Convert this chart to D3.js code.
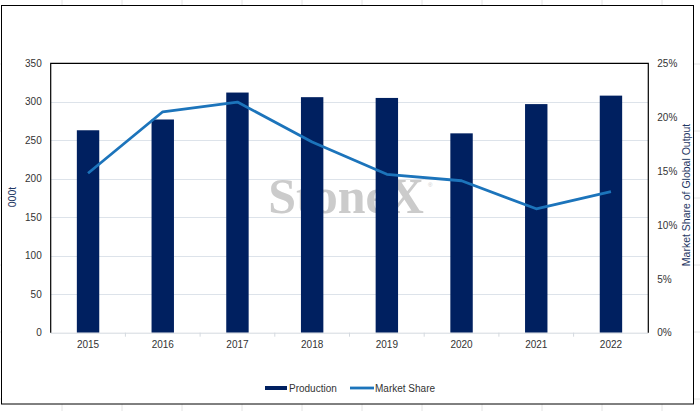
<!DOCTYPE html>
<html>
<head>
<meta charset="utf-8">
<script src="https://cdn.jsdelivr.net/npm/d3@7"></script>
<style>
  body { margin: 0; background: #fff; }
  svg { display: block; font-family: "Liberation Sans", Arial, sans-serif; }
  .axis text { fill: #333; font-size: 10px; }
  .axis .domain { display: none; }
</style>
</head>
<body>
<svg id="chart"></svg>
<script>
// data
const years = ["2015", "2016", "2017", "2018", "2019", "2020", "2021", "2022"];
const production = [263, 277, 312, 306, 305, 259, 297, 308];     // 000t
const marketShare = [14.8, 20.5, 21.4, 17.7, 14.7, 14.1, 11.5, 13.1]; // %
const leftTicks = [0, 50, 100, 150, 200, 250, 300, 350];
const rightTicks = [0, 5, 10, 15, 20, 25];

const W = 700, H = 411;
const plot = { left: 50.7, right: 648.3, top: 63.3, bottom: 332.7 };

const svg = d3.select("#chart").attr("width", W).attr("height", H);

// faint spreadsheet grid behind the chart object
const sheet = svg.append("g").attr("stroke", "#e4e4e4").attr("stroke-width", 1);
d3.range(62, W, 60).forEach(x => {
  sheet.append("line").attr("x1", x).attr("x2", x).attr("y1", 0).attr("y2", H);
});
d3.range(-3, H, 67).forEach(y => {
  sheet.append("line").attr("x1", 0).attr("x2", W).attr("y1", y).attr("y2", y);
});

// chart frame
svg.append("rect")
  .attr("x", 1.5).attr("y", 5.5)
  .attr("width", 692).attr("height", 398.5)
  .attr("fill", "#fff").attr("stroke", "#000").attr("stroke-width", 1);

// scales
const x = d3.scaleBand().domain(years).range([plot.left, plot.right]);
const yL = d3.scaleLinear().domain([0, 350]).range([plot.bottom, plot.top]);
const yR = d3.scaleLinear().domain([0, 25]).range([plot.bottom, plot.top]);

// gridlines
svg.append("g")
  .selectAll("line")
  .data(leftTicks.slice(1, -1))
  .join("line")
    .attr("x1", plot.left).attr("x2", plot.right)
    .attr("y1", d => Math.round(yL(d)) + 0.5).attr("y2", d => Math.round(yL(d)) + 0.5)
    .attr("stroke", "#dde3ea").attr("stroke-width", 1);

// watermark
svg.append("text")
  .attr("x", 346).attr("y", 213)
  .attr("text-anchor", "middle")
  .attr("font-family", "'Liberation Serif', 'DejaVu Serif', serif")
  .attr("font-weight", "bold")
  .attr("font-size", 50)
  .attr("fill", "#cbcbcb")
  .text("StoneX");
svg.append("text")
  .attr("x", 428).attr("y", 187)
  .attr("font-size", 6).attr("fill", "#cbcbcb")
  .text("®");

// bars
const barW = x.bandwidth() * 0.3;
svg.append("g")
  .selectAll("rect")
  .data(years.map((y, i) => ({ year: y, value: production[i] })))
  .join("rect")
    .attr("x", d => x(d.year) + (x.bandwidth() - barW) / 2)
    .attr("y", d => yL(d.value))
    .attr("width", barW)
    .attr("height", d => yL(0) - yL(d.value))
    .attr("fill", "#002060");

// market share line
const line = d3.line()
  .x((d, i) => x(years[i]) + x.bandwidth() / 2)
  .y(d => yR(d));
svg.append("path")
  .datum(marketShare)
  .attr("d", line)
  .attr("fill", "none")
  .attr("stroke", "#1c74bb")
  .attr("stroke-width", 2.8)
  .attr("stroke-linejoin", "round");

// x axis (light grey baseline with ticks between categories)
svg.append("line")
  .attr("x1", plot.left).attr("x2", plot.right)
  .attr("y1", plot.bottom + 0.5).attr("y2", plot.bottom + 0.5)
  .attr("stroke", "#d4d9df");
svg.append("g")
  .selectAll("line")
  .data(years.slice(1))
  .join("line")
    .attr("x1", d => x(d)).attr("x2", d => x(d))
    .attr("y1", plot.bottom).attr("y2", plot.bottom + 4)
    .attr("stroke", "#d4d9df");
svg.append("g")
  .attr("class", "axis")
  .attr("transform", `translate(0,${plot.bottom})`)
  .call(d3.axisBottom(x).tickSize(0).tickPadding(8));

// left / right axes
svg.append("g")
  .attr("class", "axis")
  .attr("transform", `translate(${plot.left},0)`)
  .call(d3.axisLeft(yL).tickValues(leftTicks).tickSize(0).tickPadding(9));
svg.append("g")
  .attr("class", "axis")
  .attr("transform", `translate(${plot.right},0)`)
  .call(d3.axisRight(yR).tickValues(rightTicks).tickSize(0).tickPadding(9)
    .tickFormat(d => d + "%"));

// plot area border: top, left, right in black
svg.append("path")
  .attr("d", `M${plot.left},${plot.bottom}V${plot.top}H${plot.right}V${plot.bottom}`)
  .attr("fill", "none").attr("stroke", "#000").attr("stroke-width", 1.2);

// axis titles
svg.append("text")
  .attr("transform", "translate(16,197) rotate(-90)")
  .attr("text-anchor", "middle")
  .attr("font-size", 10.5).attr("fill", "#1f3864")
  .text("000t");
svg.append("text")
  .attr("transform", "translate(690,195) rotate(-90)")
  .attr("text-anchor", "middle")
  .attr("font-size", 10.5).attr("fill", "#1f3864")
  .text("Market Share of Global Output");

// legend
const lg = svg.append("g").attr("font-size", 10).attr("fill", "#333");
lg.append("rect").attr("x", 265).attr("y", 386).attr("width", 22).attr("height", 4).attr("fill", "#002060");
lg.append("text").attr("x", 289).attr("y", 391.5).text("Production");
lg.append("line").attr("x1", 350).attr("x2", 374).attr("y1", 388).attr("y2", 388)
  .attr("stroke", "#1c74bb").attr("stroke-width", 2.8);
lg.append("text").attr("x", 375).attr("y", 391.5).text("Market Share");
</script>
</body>
</html>
